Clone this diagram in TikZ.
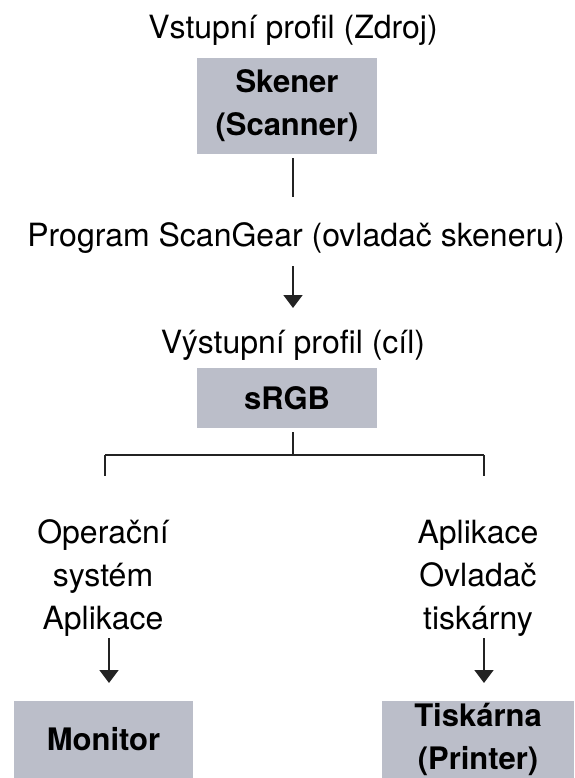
\documentclass[tikz,border=0pt]{standalone}
\usepackage{fontspec}
\setmainfont{TeX Gyre Heros}
\usepackage{tikz}
\usetikzlibrary{arrows.meta,positioning,calc}
\usepackage{xcolor}
\definecolor{boxgray}{RGB}{187,190,201}
\definecolor{linegray}{RGB}{35,35,35}

\begin{document}
\begin{tikzpicture}[x=1pt, y=-1pt, >={Triangle[length=13pt,width=19pt]},
  lbl/.style={font=\fontsize{32}{43}\selectfont, align=center, inner sep=0pt},
  box/.style={fill=boxgray, font=\fontsize{31}{43}\selectfont\bfseries, align=center,
    inner sep=0pt, minimum width=180pt},
  conn/.style={draw=linegray, line width=1.8pt}]

  \useasboundingbox (0,0) rectangle (574,778);

  % Define nodes
  \node[lbl] (vstup) at (293,30) {Vstupní profil (Zdroj)};
  \node[box, minimum height=96pt] (skener) at (287,106) {Skener\\(Scanner)};
  \node[lbl] (prog) at (296,238) {Program ScanGear (ovladač skeneru)};
  \node[lbl] (vystup) at (293,345) {Výstupní profil (cíl)};
  \node[box, minimum height=60pt] (srgb) at (287,398) {sRGB};
  \node[lbl] (os) at (103,578) {Operační\\systém\\Aplikace};
  \node[lbl] (apl) at (478,578) {Aplikace\\Ovladač\\tiskárny};
  \node[box, minimum width=179pt, minimum height=77pt] (monitor) at (103.5,739.5) {Monitor};
  \node[box, minimum width=192pt, minimum height=77pt] (tisk) at (478,739.5) {Tiskárna\\(Printer)};

  % Draw connectors
  \draw[conn] ([xshift=6pt, yshift=-4pt]skener.south) -- ++(0,39);
  \draw[conn, ->] ($(prog.center -| 293,0)+(0,28)$) -- ++(0,42);
  \draw[conn] ([xshift=6pt, yshift=-4pt]srgb.south) -- ++(0,23) coordinate (fork);
  \draw[conn] (fork -| 105,0) -- (fork -| 484,0);
  \draw[conn] (fork -| 105,0) -- ++(0,21);
  \draw[conn] (fork -| 484,0) -- ++(0,21);
  \draw[conn, ->] ($(os.center -| 109,0)+(0,60)$) -- ++(0,45);
  \draw[conn, ->] ($(apl.center -| 484,0)+(0,60)$) -- ++(0,45);
\end{tikzpicture}
\end{document}
